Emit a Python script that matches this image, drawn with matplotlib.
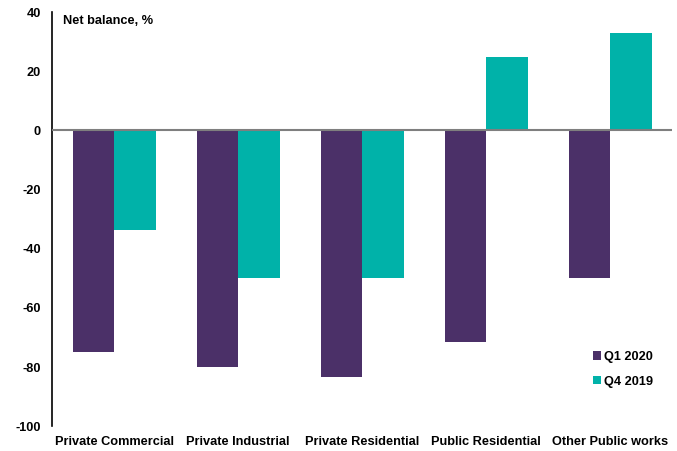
import numpy as np
import matplotlib.pyplot as plt

plt.rcParams['font.family'] = ['Liberation Sans', 'DejaVu Sans']
plt.rcParams['font.weight'] = 'bold'

categories = ["Private Commercial", "Private Industrial", "Private Residential",
              "Public Residential", "Other Public works"]
q1_2020 = [-75, -80, -83.5, -71.5, -50]
q4_2019 = [-33.5, -50, -50, 25, 33]
yticks = [40, 20, 0, -20, -40, -60, -80, -100]

purple = "#4B3068"
teal = "#00B2A9"

fig = plt.figure(figsize=(6.77, 4.51), dpi=100)
ax = fig.add_axes([0.077, 0.055, 0.916, 0.918])

x = np.arange(len(categories))
w = 0.335
ax.bar(x - w / 2, q1_2020, w, color=purple, label="Q1 2020", zorder=2)
ax.bar(x + w / 2, q4_2019, w, color=teal, label="Q4 2019", zorder=2)

ax.axhline(0, color="#7f7f7f", lw=1.5, zorder=3)
ax.set_xlim(-0.5, len(categories) - 0.5)
ax.set_ylim(-100, 40)
ax.set_yticks(yticks)
ax.set_yticklabels([str(t) for t in yticks], fontsize=9.2, fontweight='bold')
ax.set_xticks(x)
ax.set_xticklabels(categories, fontsize=9.2, fontweight='bold')
ax.tick_params(axis='x', length=0, pad=7)
ax.tick_params(axis='y', length=0, pad=8)

for s in ['top', 'right', 'bottom']:
    ax.spines[s].set_visible(False)
ax.spines['left'].set_color('black')
ax.spines['left'].set_linewidth(1.2)

ax.text(0.018, 0.992, "Net balance, %", transform=ax.transAxes, fontsize=9.2,
        fontweight='bold', va='top')

leg = ax.legend(loc='lower right', bbox_to_anchor=(0.987, 0.065), frameon=False,
                handlelength=0.6, handleheight=0.6, handletextpad=0.2,
                labelspacing=1.0, prop={'size': 9.2, 'weight': 'bold'})

fig.savefig("out.png", dpi=100)
